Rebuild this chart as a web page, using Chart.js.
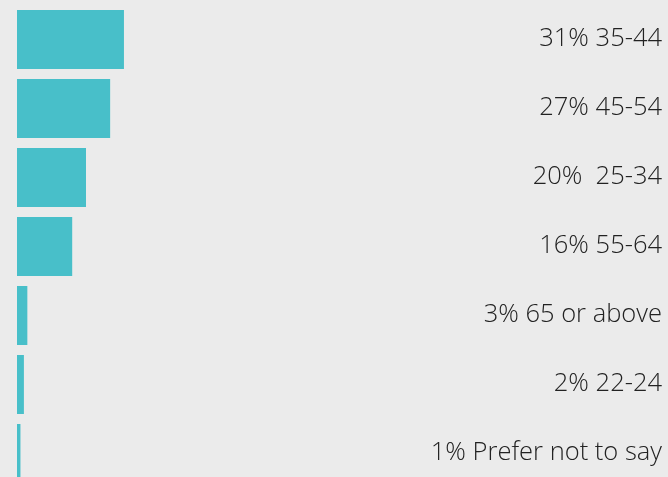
<!DOCTYPE html>
<html>
<head>
<meta charset="utf-8">
<script src="https://cdn.jsdelivr.net/npm/chart.js@4/dist/chart.umd.min.js"></script>
<style>
  html, body { margin: 0; padding: 0; background: #ebebeb; overflow: hidden; }
  #wrap { width: 668px; height: 493px; position: relative; }
</style>
</head>
<body>
<div id="wrap"><canvas id="chart"></canvas></div>
<script>
// age groups, sorted by share
const categories = ["35-44", "45-54", " 25-34", "55-64", "65 or above", "22-24", "Prefer not to say"];
const shares = [31, 27, 20, 16, 3, 2, 1];

// labels to the right of the bars: "31% 35-44"
const rightLabels = {
    id: "rightLabels",
    afterDatasetsDraw(chart) {
        const ctx = chart.ctx;
        const yScale = chart.scales.y;
        ctx.save();
        ctx.font = "300 25.5px 'Open Sans'";
        ctx.fillStyle = "#222222";
        ctx.textAlign = "right";
        ctx.textBaseline = "middle";
        categories.forEach((cat, i) => {
            const y = yScale.getPixelForValue(i) - 1;
            ctx.fillText(shares[i] + "% " + cat, chart.width - 6, y);
        });
        ctx.restore();
    }
};

new Chart(document.getElementById("chart"), {
    type: "bar",
    data: {
        labels: categories,
        datasets: [{
            data: shares,
            backgroundColor: "#48bfc9",
            barPercentage: 1,
            categoryPercentage: 59 / 69
        }]
    },
    options: {
        indexAxis: "y",
        responsive: true,
        maintainAspectRatio: false,
        animation: false,
        layout: { padding: { left: 17, right: 306, top: 5, bottom: 5 } },
        plugins: { legend: { display: false }, tooltip: { enabled: false } },
        scales: {
            x: { display: false, min: 0, max: 100 },
            y: { display: false }
        }
    },
    plugins: [rightLabels]
});
</script>
</body>
</html>
